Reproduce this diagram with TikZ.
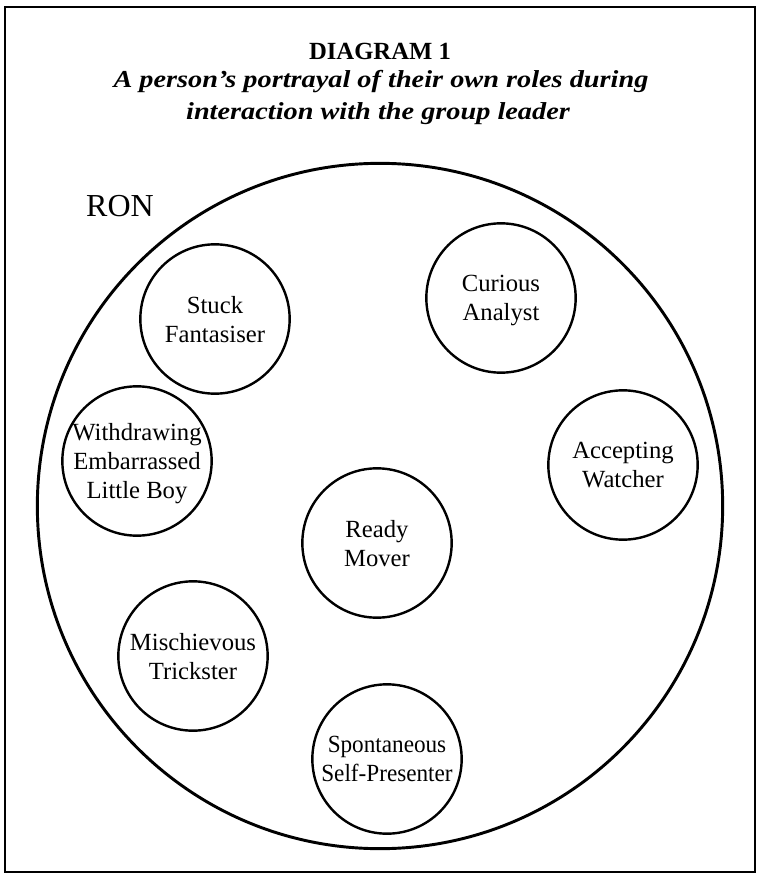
\documentclass[tikz,border=0pt]{standalone}
\usepackage{fontspec}
\setmainfont{Liberation Serif}
\newfontfamily\widefont[FakeStretch=1.16]{Liberation Serif}
\newfontfamily\narrowfont[FakeStretch=0.94]{Liberation Serif}
\begin{document}
\begin{tikzpicture}[x=0.75pt,y=-0.75pt,
  role/.style={circle,draw,line width=1.8pt,minimum size=112pt,inner sep=0pt,
    text depth=0pt,align=center,font=\fontsize{18.5}{21.75}\selectfont},
  heading/.style={anchor=base,font=\bfseries\fontsize{18.5}{22}\selectfont},
  subheading/.style={anchor=base,font=\widefont\bfseries\itshape\fontsize{18.3}{22}\selectfont},
]
\useasboundingbox (0,0) rectangle (760,877);
% outer frame
\draw[line width=1.6pt] (5,7) rectangle (755,872);

% titles
\node[heading] (title) at (380,60) {DIAGRAM 1};
\node[subheading] (sub1) at (381,88) {A person’s portrayal of their own roles during};
\node[subheading] (sub2) at (378,120) {interaction with the group leader};

% the person and his roles
\node[circle,draw,line width=2.2pt,minimum size=514pt,inner sep=0pt] (ron) at (380,506) {};
\node[anchor=base,font=\fontsize{24}{28}\selectfont] (name) at (120,217) {RON};

\node[role] (stuck)    at (215,319) {Stuck\\Fantasiser};
\node[role] (curious)  at (501,298) {Curious\\Analyst};
\node[role] (withdraw) at (137,461) {Withdrawing\\Embarrassed\\Little Boy};
\node[role] (accept)   at (623,465) {Accepting\\Watcher};
\node[role] (ready)    at (377,543) {Ready\\Mover};
\node[role] (trick)    at (193,656) {Mischievous\\Trickster};
\node[role,font=\narrowfont\fontsize{18.5}{21.75}\selectfont] (spont) at (387,759) {Spontaneous\\Self-Presenter};
\end{tikzpicture}
\end{document}
